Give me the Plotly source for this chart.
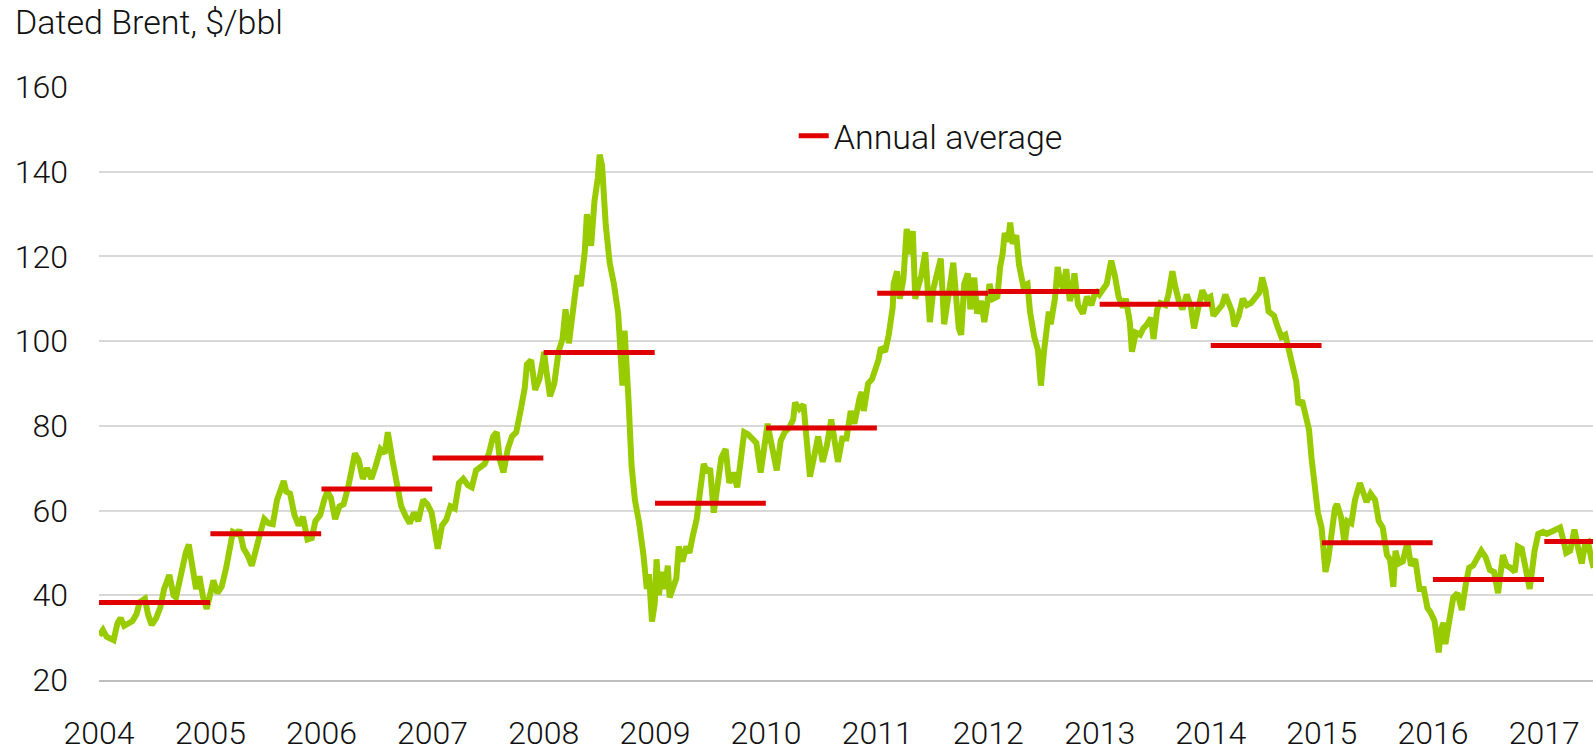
import plotly.graph_objects as go

# Dated Brent, $/bbl (roughly semi-monthly)
dates = [
    "2004-01-02","2004-01-14","2004-01-26","2004-02-06","2004-02-18","2004-03-02","2004-03-12","2004-03-24",
    "2004-04-06","2004-04-20","2004-05-03","2004-05-14","2004-05-31","2004-06-10","2004-06-22","2004-07-06",
    "2004-07-20","2004-08-02","2004-08-19","2004-09-02","2004-09-10","2004-09-28","2004-10-12","2004-10-22",
    "2004-11-03","2004-11-15","2004-11-26","2004-12-08","2004-12-20","2004-12-31",
    "2005-01-11","2005-01-24","2005-02-07","2005-02-22","2005-03-04","2005-03-16","2005-03-31","2005-04-06",
    "2005-04-20","2005-05-03","2005-05-17","2005-05-31","2005-06-15","2005-06-27","2005-07-11","2005-07-25",
    "2005-08-08","2005-08-30","2005-09-07","2005-09-20","2005-10-04","2005-10-18","2005-11-01","2005-11-16",
    "2005-11-30","2005-12-12","2005-12-28",
    "2006-01-10","2006-01-20","2006-02-01","2006-02-15","2006-03-01","2006-03-15","2006-03-31","2006-04-12",
    "2006-04-21","2006-05-03","2006-05-17","2006-05-31","2006-06-14","2006-06-28","2006-07-14","2006-07-28",
    "2006-08-07","2006-08-22","2006-09-06","2006-09-20","2006-10-06","2006-10-18","2006-11-01","2006-11-15",
    "2006-12-01","2006-12-15","2006-12-29",
    "2007-01-09","2007-01-18","2007-02-01","2007-02-15","2007-03-01","2007-03-15","2007-03-29","2007-04-12",
    "2007-04-27","2007-05-10","2007-05-24","2007-06-07","2007-06-21","2007-07-05","2007-07-19","2007-07-31",
    "2007-08-10","2007-08-22","2007-09-05","2007-09-19","2007-10-03","2007-10-17","2007-10-31","2007-11-07",
    "2007-11-21","2007-12-04","2007-12-18","2007-12-31",
    "2008-01-02","2008-01-10","2008-01-22","2008-02-05","2008-02-19","2008-03-03","2008-03-13","2008-03-24",
    "2008-04-08","2008-04-21","2008-05-02","2008-05-15","2008-05-22","2008-06-05","2008-06-16","2008-06-27",
    "2008-07-03","2008-07-11","2008-07-23","2008-08-05","2008-08-19","2008-09-02","2008-09-16","2008-09-23",
    "2008-10-06","2008-10-16","2008-10-27","2008-11-10","2008-11-24","2008-12-05","2008-12-12","2008-12-22",
    "2008-12-31",
    "2009-01-06","2009-01-14","2009-01-22","2009-02-03","2009-02-12","2009-02-18","2009-03-02","2009-03-12",
    "2009-03-20","2009-04-01","2009-04-14","2009-04-24","2009-05-05","2009-05-18","2009-05-29","2009-06-10",
    "2009-06-22","2009-07-01","2009-07-13","2009-07-27","2009-08-07","2009-08-21","2009-09-02","2009-09-15",
    "2009-09-28","2009-10-09","2009-10-21","2009-11-03","2009-11-17","2009-11-30","2009-12-14","2009-12-29",
    "2010-01-06","2010-01-15","2010-01-29","2010-02-05","2010-02-18","2010-03-03","2010-03-17","2010-03-31",
    "2010-04-06","2010-04-20","2010-05-04","2010-05-14","2010-05-25","2010-06-07","2010-06-21","2010-07-06",
    "2010-07-20","2010-08-03","2010-08-12","2010-08-25","2010-09-08","2010-09-22","2010-10-06","2010-10-18",
    "2010-11-04","2010-11-11","2010-11-18","2010-12-02","2010-12-15","2010-12-31",
    "2011-01-05","2011-01-13","2011-01-27","2011-02-08","2011-02-21","2011-02-24","2011-03-07","2011-03-16",
    "2011-03-28","2011-04-08","2011-04-18","2011-04-28","2011-05-06","2011-05-16","2011-05-26","2011-06-08",
    "2011-06-23","2011-07-05","2011-07-20","2011-07-29","2011-08-09","2011-08-18","2011-08-31","2011-09-08",
    "2011-09-26","2011-10-04","2011-10-14","2011-10-26","2011-11-03","2011-11-16","2011-11-25","2011-12-09",
    "2011-12-19","2011-12-30",
    "2012-01-05","2012-01-17","2012-01-31","2012-02-09","2012-02-17","2012-02-24","2012-03-06","2012-03-13",
    "2012-03-21","2012-04-02","2012-04-11","2012-04-25","2012-05-09","2012-05-17","2012-05-31","2012-06-12",
    "2012-06-22","2012-07-02","2012-07-18","2012-07-24","2012-08-07","2012-08-16","2012-08-24","2012-09-03",
    "2012-09-13","2012-09-25","2012-10-05","2012-10-10","2012-10-22","2012-11-07","2012-11-20","2012-12-05",
    "2012-12-19","2012-12-31",
    "2013-01-11","2013-01-24","2013-02-08","2013-02-20","2013-03-04","2013-03-18","2013-03-28","2013-04-10",
    "2013-04-17","2013-04-30","2013-05-14","2013-05-24","2013-06-06","2013-06-19","2013-06-27","2013-07-09",
    "2013-07-19","2013-08-05","2013-08-15","2013-08-28","2013-09-06","2013-09-18","2013-09-30","2013-10-14",
    "2013-10-28","2013-11-07","2013-11-20","2013-12-04","2013-12-18","2013-12-31",
    "2014-01-10","2014-01-27","2014-02-07","2014-02-18","2014-02-28","2014-03-12","2014-03-20","2014-04-03",
    "2014-04-16","2014-04-29","2014-05-13","2014-05-27","2014-06-10","2014-06-19","2014-06-30","2014-07-10",
    "2014-07-28","2014-08-08","2014-08-21","2014-09-03","2014-09-16","2014-09-30","2014-10-09","2014-10-16",
    "2014-10-28","2014-11-07","2014-11-20","2014-11-28","2014-12-10","2014-12-19","2014-12-31",
    "2015-01-08","2015-01-13","2015-01-22","2015-02-03","2015-02-13","2015-02-20","2015-03-05","2015-03-17",
    "2015-03-26","2015-04-08","2015-04-20","2015-05-06","2015-05-14","2015-05-28","2015-06-10","2015-06-25",
    "2015-07-07","2015-07-20","2015-08-03","2015-08-13","2015-08-24","2015-08-31","2015-09-10","2015-09-24",
    "2015-10-09","2015-10-21","2015-11-04","2015-11-18","2015-12-02","2015-12-14","2015-12-24",
    "2016-01-06","2016-01-20","2016-01-28","2016-02-05","2016-02-11","2016-02-25","2016-03-08","2016-03-22",
    "2016-04-05","2016-04-19","2016-04-29","2016-05-12","2016-05-26","2016-06-08","2016-06-22","2016-07-06",
    "2016-07-20","2016-08-02","2016-08-18","2016-08-30","2016-09-12","2016-09-26","2016-10-06","2016-10-19",
    "2016-11-03","2016-11-14","2016-11-30","2016-12-12","2016-12-28",
    "2017-01-09","2017-01-24","2017-02-08","2017-02-22","2017-03-08","2017-03-14","2017-03-27","2017-04-10",
    "2017-04-24","2017-05-04","2017-05-15","2017-05-25","2017-06-05","2017-06-12",
]
brent = [
    30.5,31.8,30.2,29.8,29.4,33.5,34.6,32.8,33.2,33.9,35.5,38.4,39.2,35.5,33.0,34.5,
    37.0,41.5,44.8,40.0,39.5,46.0,50.0,52.0,47.0,41.5,44.5,39.5,36.8,40.5,
    43.5,40.5,42.0,46.5,50.5,55.0,54.5,55.5,51.0,49.5,47.0,51.5,55.0,58.0,57.0,56.8,
    62.5,67.0,64.5,64.0,59.0,56.5,58.5,53.2,53.5,57.5,59.0,
    62.5,64.5,63.0,58.0,61.0,61.5,66.0,69.5,73.5,72.0,67.5,70.0,67.5,70.5,74.5,73.5,
    78.5,72.0,66.5,61.0,58.5,57.0,59.5,57.5,62.5,61.5,59.5,
    54.5,51.0,56.5,57.8,61.0,60.5,66.5,67.5,66.0,65.5,69.5,70.5,71.0,73.5,77.5,78.5,
    72.0,69.0,74.5,77.5,78.5,83.5,89.0,94.5,95.5,88.5,91.0,96.0,
    97.5,93.0,87.0,90.0,97.5,100.5,107.5,99.5,107.0,115.5,113.0,121.0,130.0,122.5,133.0,138.5,
    144.0,141.5,127.5,118.5,113.5,106.5,89.5,102.5,86.0,70.5,62.5,57.0,49.5,41.5,45.0,33.8,
    38.0,
    48.5,40.0,45.5,41.5,47.0,39.5,42.0,44.0,51.5,48.0,51.5,50.0,54.0,58.0,64.5,71.0,
    69.0,70.0,59.5,68.5,72.5,74.5,66.5,69.0,65.5,71.5,78.5,78.0,77.0,76.0,69.0,77.5,
    80.5,77.0,70.5,69.5,76.5,78.5,79.5,81.5,85.5,84.0,85.0,76.5,68.0,72.5,77.5,71.5,
    75.5,81.5,77.0,71.5,77.0,77.0,83.5,80.5,86.5,88.0,83.5,90.0,91.0,94.0,
    95.5,98.5,97.5,101.5,108.0,113.5,116.5,110.0,114.5,126.5,120.5,126.0,110.0,113.0,115.5,121.0,
    104.5,112.5,118.0,119.5,104.0,109.5,114.5,118.5,103.0,101.5,113.5,116.0,107.5,115.0,106.5,109.5,
    104.5,109.5,
    113.5,110.0,110.5,117.5,120.5,125.5,123.5,128.0,123.0,125.0,118.0,113.0,113.5,107.0,101.0,98.0,
    89.5,97.5,107.0,104.0,110.0,117.5,114.0,112.5,117.0,109.5,112.0,116.0,108.5,106.5,110.5,108.5,
    112.0,111.0,
    112.0,113.5,119.0,115.5,110.5,108.0,110.0,104.5,97.5,102.0,101.5,103.0,104.0,105.5,100.5,107.5,
    109.0,108.5,111.0,116.5,113.0,109.5,107.5,111.0,108.0,103.0,107.5,112.0,110.0,110.5,
    106.0,107.5,108.5,111.0,109.5,107.0,103.5,106.0,110.0,108.5,109.0,110.5,111.5,115.0,112.0,107.0,
    106.0,103.5,101.0,101.5,98.0,94.0,90.5,85.0,86.0,83.0,79.0,72.5,65.5,59.5,56.0,
    50.0,45.5,48.5,55.5,60.5,61.5,58.5,52.0,57.5,57.0,62.5,66.5,65.0,62.0,64.0,62.5,
    57.5,56.0,49.5,48.5,42.0,50.5,47.5,48.0,52.5,47.0,48.5,41.5,41.5,37.0,36.0,
    34.0,26.5,32.0,33.5,28.5,34.5,39.5,40.5,36.5,43.0,46.5,47.0,49.0,50.5,49.0,46.0,
    45.5,40.5,49.5,47.0,46.5,45.5,51.5,51.0,45.5,41.5,50.5,54.5,55.0,
    54.5,55.0,55.5,56.0,52.0,50.0,50.5,55.5,50.5,47.5,52.0,52.5,48.5,46.5,
]

# Annual averages
years = [2004, 2005, 2006, 2007, 2008, 2009, 2010, 2011, 2012, 2013, 2014, 2015, 2016, 2017]
annual_avg = [38.3, 54.5, 65.1, 72.4, 97.3, 61.7, 79.5, 111.3, 111.7, 108.7, 99.0, 52.4, 43.7, 52.7]

GREEN = "#99CC00"
RED = "#E00000"
FONT = "Roboto"
TXT = "#111111"

avg_x, avg_y = [], []
for yr, v in zip(years, annual_avg):
    avg_x += [f"{yr}-01-01", f"{yr}-12-31", None]
    avg_y += [v, v, None]

fig = go.Figure()
fig.add_trace(go.Scatter(
    x=dates, y=brent, mode="lines", name="Dated Brent",
    line=dict(color=GREEN, width=6), showlegend=False, hoverinfo="x+y",
))
fig.add_trace(go.Scatter(
    x=avg_x, y=avg_y, mode="lines", name="Annual average",
    line=dict(color=RED, width=5), connectgaps=False,
))

fig.update_layout(
    width=1593, height=752,
    margin=dict(l=99, r=0, t=87, b=62),
    paper_bgcolor="white", plot_bgcolor="white",
    font=dict(family=FONT, size=32, color=TXT, weight=300),
    title=dict(
        text="Dated Brent, $/bbl", x=15/1593, xanchor="left", xref="container",
        y=1 - 22/752, yanchor="middle", yref="container",
        font=dict(family=FONT, size=34, color=TXT, weight=300),
    ),
    legend=dict(
        x=0.465, y=0.917, xanchor="left", yanchor="middle",
        bgcolor="rgba(0,0,0,0)", borderwidth=0,
        font=dict(family=FONT, size=34, color=TXT, weight=300),
    ),
    showlegend=True,
)
fig.update_xaxes(
    type="date", range=["2004-01-01", "2017-06-10"],
    tick0="2004-01-01", dtick="M12", tickformat="%Y",
    showgrid=False, showline=True, linecolor="#bfbfbf", linewidth=1.5,
    ticks="", ticklabelstandoff=24,
    tickfont=dict(family=FONT, size=32, color=TXT, weight=300),
)
fig.update_yaxes(
    range=[20, 160], tick0=20, dtick=20,
    showgrid=True, gridcolor="#d9d9d9", gridwidth=1.5, zeroline=False,
    showline=False, ticks="", ticklabelstandoff=30,
    tickfont=dict(family=FONT, size=32, color=TXT, weight=300),
)

fig.write_html(
    "out.html",
    config={"displayModeBar": False},
    post_script="document.body.style.margin='0px';document.body.style.overflow='hidden';",
)
